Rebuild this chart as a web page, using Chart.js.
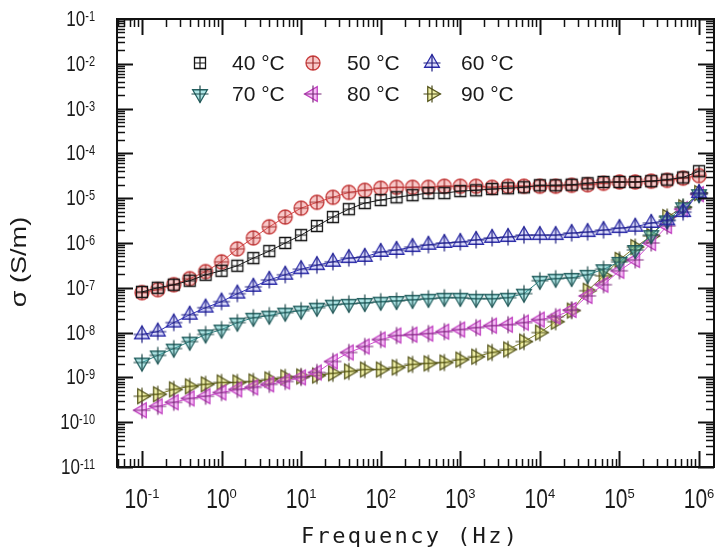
<!DOCTYPE html>
<html>
<head>
<meta charset="utf-8">
<script src="https://cdn.jsdelivr.net/npm/chart.js@4.4.1/dist/chart.umd.min.js"></script>
<style>
  html, body { margin: 0; padding: 0; background: #fff; }
  canvas { display: block; }
</style>
</head>
<body>
<canvas id="sigmaChart" width="722" height="552"></canvas>
<script>
// Fréquences de mesure (Hz)
const frequencies = [0.1, 0.158, 0.251, 0.398, 0.631, 1, 1.58, 2.51, 3.98, 6.31,
  10, 15.8, 25.1, 39.8, 63.1, 100, 158, 251, 398, 631,
  1000, 1580, 2510, 3980, 6310, 10000, 15800, 25100, 39800, 63100,
  100000, 158000, 251000, 398000, 631000, 1000000];

const seriesLabels = ['40 °C', '50 °C', '60 °C', '70 °C', '80 °C', '90 °C'];

// Conductivité σ (S/m)
const sigma40 = [8.1e-8, 1.0e-7, 1.17e-7, 1.44e-7, 1.95e-7, 2.4e-7, 3.1e-7, 4.6e-7, 6.6e-7, 1.0e-6,
  1.5e-6, 2.4e-6, 3.8e-6, 5.7e-6, 7.8e-6, 9.1e-6, 1.05e-5, 1.17e-5, 1.3e-5, 1.3e-5,
  1.44e-5, 1.5e-5, 1.6e-5, 1.67e-5, 1.75e-5, 1.94e-5, 1.94e-5, 2.0e-5, 2.15e-5, 2.3e-5,
  2.3e-5, 2.3e-5, 2.4e-5, 2.6e-5, 2.9e-5, 4.0e-5];
const sigma50 = [7.8e-8, 9.1e-8, 1.17e-7, 1.6e-7, 2.3e-7, 3.8e-7, 7.4e-7, 1.3e-6, 2.3e-6, 3.8e-6,
  6.0e-6, 8.1e-6, 1.05e-5, 1.35e-5, 1.5e-5, 1.67e-5, 1.75e-5, 1.75e-5, 1.75e-5, 1.85e-5,
  1.85e-5, 1.85e-5, 1.75e-5, 1.85e-5, 1.85e-5, 1.85e-5, 1.85e-5, 1.94e-5, 2.0e-5, 2.15e-5,
  2.3e-5, 2.3e-5, 2.4e-5, 2.5e-5, 2.8e-5, 3.2e-5];
const sigma60 = [9.1e-9, 1.05e-8, 1.67e-8, 2.5e-8, 3.6e-8, 4.9e-8, 7.4e-8, 1.05e-7, 1.5e-7, 1.95e-7,
  2.6e-7, 3.2e-7, 3.8e-7, 4.6e-7, 4.9e-7, 6.3e-7, 7.0e-7, 8.1e-7, 9.1e-7, 1.0e-6,
  1.05e-6, 1.17e-6, 1.3e-6, 1.36e-6, 1.5e-6, 1.5e-6, 1.5e-6, 1.67e-6, 1.75e-6, 1.94e-6,
  2.15e-6, 2.3e-6, 2.8e-6, 3.2e-6, 4.9e-6, 1.3e-5];
const sigma70 = [2.15e-9, 3.1e-9, 4.4e-9, 6.3e-9, 9.1e-9, 1.17e-8, 1.67e-8, 2.15e-8, 2.4e-8, 2.8e-8,
  3.1e-8, 3.6e-8, 4.2e-8, 4.4e-8, 4.6e-8, 4.9e-8, 5.1e-8, 5.4e-8, 5.7e-8, 6.0e-8,
  6.0e-8, 5.7e-8, 5.7e-8, 6.0e-8, 7.4e-8, 1.44e-7, 1.6e-7, 1.67e-7, 1.95e-7, 2.6e-7,
  3.8e-7, 7.0e-7, 1.5e-6, 3.2e-6, 6.3e-6, 1.23e-5];
const sigma80 = [1.85e-10, 2.27e-10, 2.78e-10, 3.4e-10, 3.8e-10, 4.6e-10, 5.4e-10, 6.0e-10, 7.0e-10, 8.1e-10,
  1.0e-9, 1.29e-9, 2.27e-9, 3.6e-9, 4.9e-9, 7.0e-9, 8.6e-9, 9.0e-9, 9.5e-9, 1.05e-8,
  1.17e-8, 1.29e-8, 1.43e-8, 1.5e-8, 1.67e-8, 1.95e-8, 2.27e-8, 3.2e-8, 6.6e-8, 1.17e-7,
  2.4e-7, 4.2e-7, 1.0e-6, 2.4e-6, 5.7e-6, 1.23e-5];
const sigma90 = [3.8e-10, 4.2e-10, 5.4e-10, 6.3e-10, 7.0e-10, 7.7e-10, 7.7e-10, 8.1e-10, 9.0e-10, 1.0e-9,
  1.05e-9, 1.1e-9, 1.23e-9, 1.36e-9, 1.5e-9, 1.5e-9, 1.67e-9, 1.95e-9, 2.05e-9, 2.15e-9,
  2.5e-9, 2.9e-9, 3.6e-9, 4.2e-9, 6.3e-9, 1.0e-8, 1.75e-8, 3.1e-8, 8.6e-8, 1.85e-7,
  4.2e-7, 8.1e-7, 1.43e-6, 3.8e-6, 6.3e-6, 1.3e-5];

const xTickExponents = [-1, 0, 1, 2, 3, 4, 5, 6];
const yTickExponents = [-11, -10, -9, -8, -7, -6, -5, -4, -3, -2, -1];

const SANS = '"Liberation Sans", Arial, sans-serif';

// Petits symboles : forme + croix, comme sur la figure d'origine
function makeMarker(shape, stroke, fill, cross) {
    const c = document.createElement('canvas');
    c.width = 22; c.height = 22;
    const g = c.getContext('2d');
    const cx = 11, cy = 11;
    g.lineWidth = 1.3;
    g.strokeStyle = stroke;
    g.fillStyle = fill;
    g.beginPath();
    if (shape === 'square') {
        g.rect(5.5, 5.5, 11, 11);
    } else if (shape === 'circle') {
        g.arc(cx, cy, 7, 0, Math.PI * 2);
    } else {
        const r = 8.5;
        const start = { up: -90, down: 90, left: 180, right: 0 }[shape];
        for (let i = 0; i < 3; i++) {
            const a = (start + i * 120) * Math.PI / 180;
            const px = cx + r * Math.cos(a), py = cy + r * Math.sin(a);
            if (i === 0) g.moveTo(px, py); else g.lineTo(px, py);
        }
        g.closePath();
    }
    g.fill();
    g.stroke();
    const h = shape === 'square' ? 5.5 : (shape === 'circle' ? 7 : 8.5);
    g.strokeStyle = cross;
    g.lineWidth = 1.2;
    g.beginPath();
    g.moveTo(cx - h, cy); g.lineTo(cx + h, cy);
    g.moveTo(cx, cy - h); g.lineTo(cx, cy + h);
    g.stroke();
    return c;
}

const markers = [
    makeMarker('square', '#151515', 'rgba(255,255,255,0)', '#151515'),
    makeMarker('circle', '#c83c3c', 'rgba(235,100,100,0.35)', '#a02828'),
    makeMarker('up', '#2a2aa8', 'rgba(120,120,240,0.25)', '#1c1c80'),
    makeMarker('down', '#235f5f', 'rgba(80,200,200,0.45)', '#1d4a4a'),
    makeMarker('left', '#c040c0', 'rgba(240,110,240,0.45)', '#7a2a7a'),
    makeMarker('right', '#5a5a20', 'rgba(225,225,80,0.5)', '#4a4a18')
];
const lineColors = ['#1a1a1a', '#d04545', '#3030b0', '#2f8080', '#d050d0', '#7a7a2a'];
const allSeries = [sigma40, sigma50, sigma60, sigma70, sigma80, sigma90];

const datasets = allSeries.map((vals, i) => ({
    label: seriesLabels[i],
    data: frequencies.map((f, k) => ({ x: f, y: vals[k] })),
    borderColor: lineColors[i],
    borderWidth: 1,
    pointStyle: markers[i],
    pointRadius: 7,
    tension: 0,
    fill: false
}));

// Axes, graduations, libellés et légende dessinés à la main
const framePlugin = {
    id: 'frame',
    afterDraw(chart) {
        const { ctx, chartArea: a, scales: { x, y } } = chart;
        ctx.save();
        ctx.strokeStyle = '#111';
        ctx.fillStyle = '#1a1a1a';

        const seg = (x1, y1, x2, y2) => { ctx.beginPath(); ctx.moveTo(x1, y1); ctx.lineTo(x2, y2); ctx.stroke(); };

        // graduations X (haut et bas, vers l'intérieur)
        for (let e = -2; e <= 6; e++) {
            for (let m = 1; m <= 9; m++) {
                const v = m * Math.pow(10, e);
                if (v < x.min * 0.999 || v > x.max * 1.001) continue;
                const px = Math.round(x.getPixelForValue(v)) + 0.5;
                const len = m === 1 ? 16 : 8;
                ctx.lineWidth = m === 1 ? 2 : 1.5;
                seg(px, a.bottom, px, a.bottom - len);
                seg(px, a.top, px, a.top + len);
            }
        }
        // graduations Y (gauche et droite)
        for (let e = -11; e <= -1; e++) {
            for (let m = 1; m <= 9; m++) {
                const v = m * Math.pow(10, e);
                if (v < y.min * 0.999 || v > y.max * 1.001) continue;
                const py = Math.round(y.getPixelForValue(v)) + 0.5;
                const len = m === 1 ? 16 : 8;
                ctx.lineWidth = m === 1 ? 2 : 1.5;
                seg(a.left, py, a.left + len, py);
                seg(a.right, py, a.right - len, py);
            }
        }
        ctx.lineWidth = 2;
        ctx.strokeRect(a.left, a.top, a.right - a.left, a.bottom - a.top);

        // libellés Y : 10^n
        ctx.textBaseline = 'alphabetic';
        ctx.textAlign = 'left';
        yTickExponents.forEach(e => {
            const py = y.getPixelForValue(Math.pow(10, e));
            const exp = '-' + (-e);
            ctx.font = '17px ' + SANS;
            const wb = ctx.measureText('10').width;
            ctx.font = '11px ' + SANS;
            const we = ctx.measureText(exp).width;
            const x0 = 95 - wb - we;
            ctx.save();
            ctx.translate(x0, py + 7);
            ctx.scale(1, 1.3);
            ctx.font = '17px ' + SANS;
            ctx.fillText('10', 0, 0);
            ctx.restore();
            ctx.save();
            ctx.translate(x0 + wb, py + 2);
            ctx.scale(1, 1.3);
            ctx.font = '11px ' + SANS;
            ctx.fillText(exp, 0, 0);
            ctx.restore();
        });

        // libellés X : 10^n
        xTickExponents.forEach(e => {
            const px = x.getPixelForValue(Math.pow(10, e));
            const exp = e < 0 ? '-' + (-e) : String(e);
            ctx.font = '21px ' + SANS;
            const wb = ctx.measureText('10').width;
            ctx.font = '13px ' + SANS;
            const we = ctx.measureText(exp).width;
            const x0 = px - (wb + we) / 2;
            ctx.save();
            ctx.translate(x0, 508);
            ctx.scale(1, 1.33);
            ctx.font = '21px ' + SANS;
            ctx.fillText('10', 0, 0);
            ctx.restore();
            ctx.font = '13px ' + SANS;
            ctx.fillText(exp, x0 + wb, 497.5);
        });

        // titre X (police à chasse fixe)
        const title = 'Frequency (Hz)';
        ctx.font = '22px "DejaVu Sans Mono", "Liberation Mono", monospace';
        ctx.textAlign = 'center';
        const step = 15.6;
        const tx0 = 409 - (title.length - 1) * step / 2;
        for (let i = 0; i < title.length; i++) {
            ctx.fillText(title[i], tx0 + i * step, 543);
        }

        // titre Y
        ctx.save();
        ctx.translate(26, 262);
        ctx.rotate(-Math.PI / 2);
        ctx.scale(1.23, 1);
        ctx.font = '22px ' + SANS;
        ctx.textAlign = 'center';
        ctx.fillText('σ (S/m)', 0, 0);
        ctx.restore();

        // légende (2 lignes x 3 colonnes)
        const colMarker = [200, 313, 432];
        const colText = [232, 347, 461];
        const rowY = [63, 94];
        ctx.font = '21px ' + SANS;
        ctx.textAlign = 'left';
        ctx.textBaseline = 'middle';
        seriesLabels.forEach((lab, i) => {
            const c = i % 3, r = Math.floor(i / 3);
            const m = markers[i];
            ctx.drawImage(m, colMarker[c] - m.width / 2, rowY[r] - m.height / 2);
            ctx.fillText(lab, colText[c], rowY[r] + 1);
        });
        ctx.restore();
    }
};

new Chart(document.getElementById('sigmaChart').getContext('2d'), {
    type: 'line',
    data: { datasets },
    options: {
        responsive: false,
        animation: false,
        layout: { padding: { top: 19, right: 7, left: 0, bottom: 0 } },
        plugins: {
            legend: { display: false },
            tooltip: { enabled: false }
        },
        scales: {
            x: {
                type: 'logarithmic',
                min: 0.04858,
                max: 1.5426e6,
                ticks: { display: false },
                grid: { display: false },
                border: { display: false },
                afterFit: s => { s.height = 85; }
            },
            y: {
                type: 'logarithmic',
                min: 1e-11,
                max: 1e-1,
                ticks: { display: false },
                grid: { display: false },
                border: { display: false },
                afterFit: s => { s.width = 117; }
            }
        }
    },
    plugins: [framePlugin]
});
</script>
</body>
</html>
